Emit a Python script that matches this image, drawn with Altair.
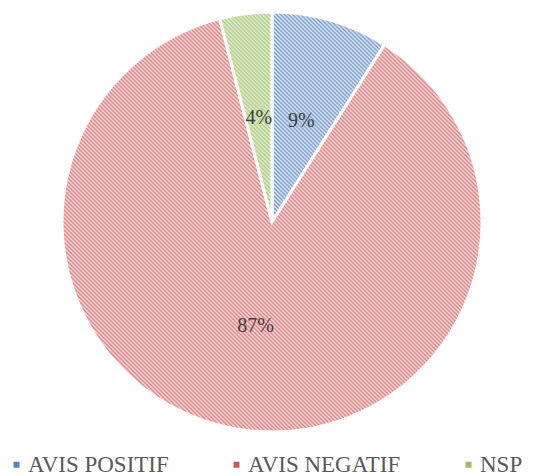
import math
import altair as alt
import pandas as pd

categories = ["AVIS POSITIF", "AVIS NEGATIF", "NSP"]
values = [9, 87, 4]
labels = ["9%", "87%", "4%"]

legend_colors = ["#5682c2", "#c85a58", "#9dbd5e"]
stripe_dark = ["#7fa2d6", "#df8585", "#b0cd85"]
stripe_light = ["#d6e2f4", "#f8d6d6", "#e3eed2"]

SERIF = "Liberation Serif"

R = 210
CX, CY = 264, 214
H_PERIOD = 4.0


def arc_bbox(a0, a1):
    pts = [(0.0, 0.0)]
    angs = [a0, a1] + [k * math.pi / 2 for k in range(5) if a0 < k * math.pi / 2 < a1]
    for a in angs:
        pts.append((R * math.sin(a), -R * math.cos(a)))
    xs = [p[0] for p in pts]
    ys = [p[1] for p in pts]
    return max(xs) - min(xs), max(ys) - min(ys)


def hatch(a0, a1, dark, light):
    w, h = arc_bbox(a0, a1)
    k = (w + h) / (w * w + h * h)
    dt = H_PERIOD / (w + h)
    stops = []
    i = 0
    while True:
        off = i * dt / 2
        if off > 1:
            break
        stops.append({"offset": round(off, 5), "color": dark if i % 2 == 0 else light})
        i += 1
    return {"gradient": "linear", "x1": 0, "y1": 1,
            "x2": round(w * k, 5), "y2": round(1 - h * k, 5), "stops": stops}


total = float(sum(values))
grads = []
acc = 0.0
for v, d, l in zip(values, stripe_dark, stripe_light):
    a0 = acc / total * 2 * math.pi
    acc += v
    a1 = acc / total * 2 * math.pi
    grads.append(hatch(a0, a1, d, l))

df = pd.DataFrame({"cat": categories, "val": values, "lab": labels,
                   "idx": list(range(len(values)))})

fill = alt.value(grads[-1], condition=[
    {"test": f"datum.cat === '{c}'", "value": g}
    for c, g in zip(categories[:-1], grads[:-1])
])

base = alt.Chart(df).encode(
    theta=alt.Theta("val:Q", stack=True),
    order=alt.Order("idx:Q"),
)

arcs = base.mark_arc(radius=R, stroke="white", strokeWidth=3).encode(
    fill=fill, x=alt.value(CX), y=alt.value(CY)
)

texts = base.mark_text(radius=105, font=SERIF, fontSize=20,
                       color="#404040", align="center", baseline="middle").encode(
    text="lab:N", x=alt.value(CX), y=alt.value(CY)
)

leg = alt.Chart(df).mark_point(shape="square", filled=True, opacity=0, size=0).encode(
    color=alt.Color("cat:N", scale=alt.Scale(domain=categories, range=legend_colors),
                    legend=alt.Legend(
                        title=None, orient="none", legendX=-3, legendY=445,
                        direction="horizontal", symbolType="square", symbolSize=36,
                        symbolOpacity=1, symbolStrokeWidth=0,
                        labelFont=SERIF, labelFontSize=23,
                        labelColor="#595959", labelOffset=0, columnPadding=56,
                        padding=0, labelLimit=400)),
    x=alt.value(CX), y=alt.value(CY),
)

chart = alt.layer(arcs, texts, leg).properties(
    width=520, height=468, padding=0, autosize=alt.AutoSizeParams(type="none")
).configure_view(stroke=None)

chart.save("out.html", embed_options={"renderer": "svg", "actions": False})
